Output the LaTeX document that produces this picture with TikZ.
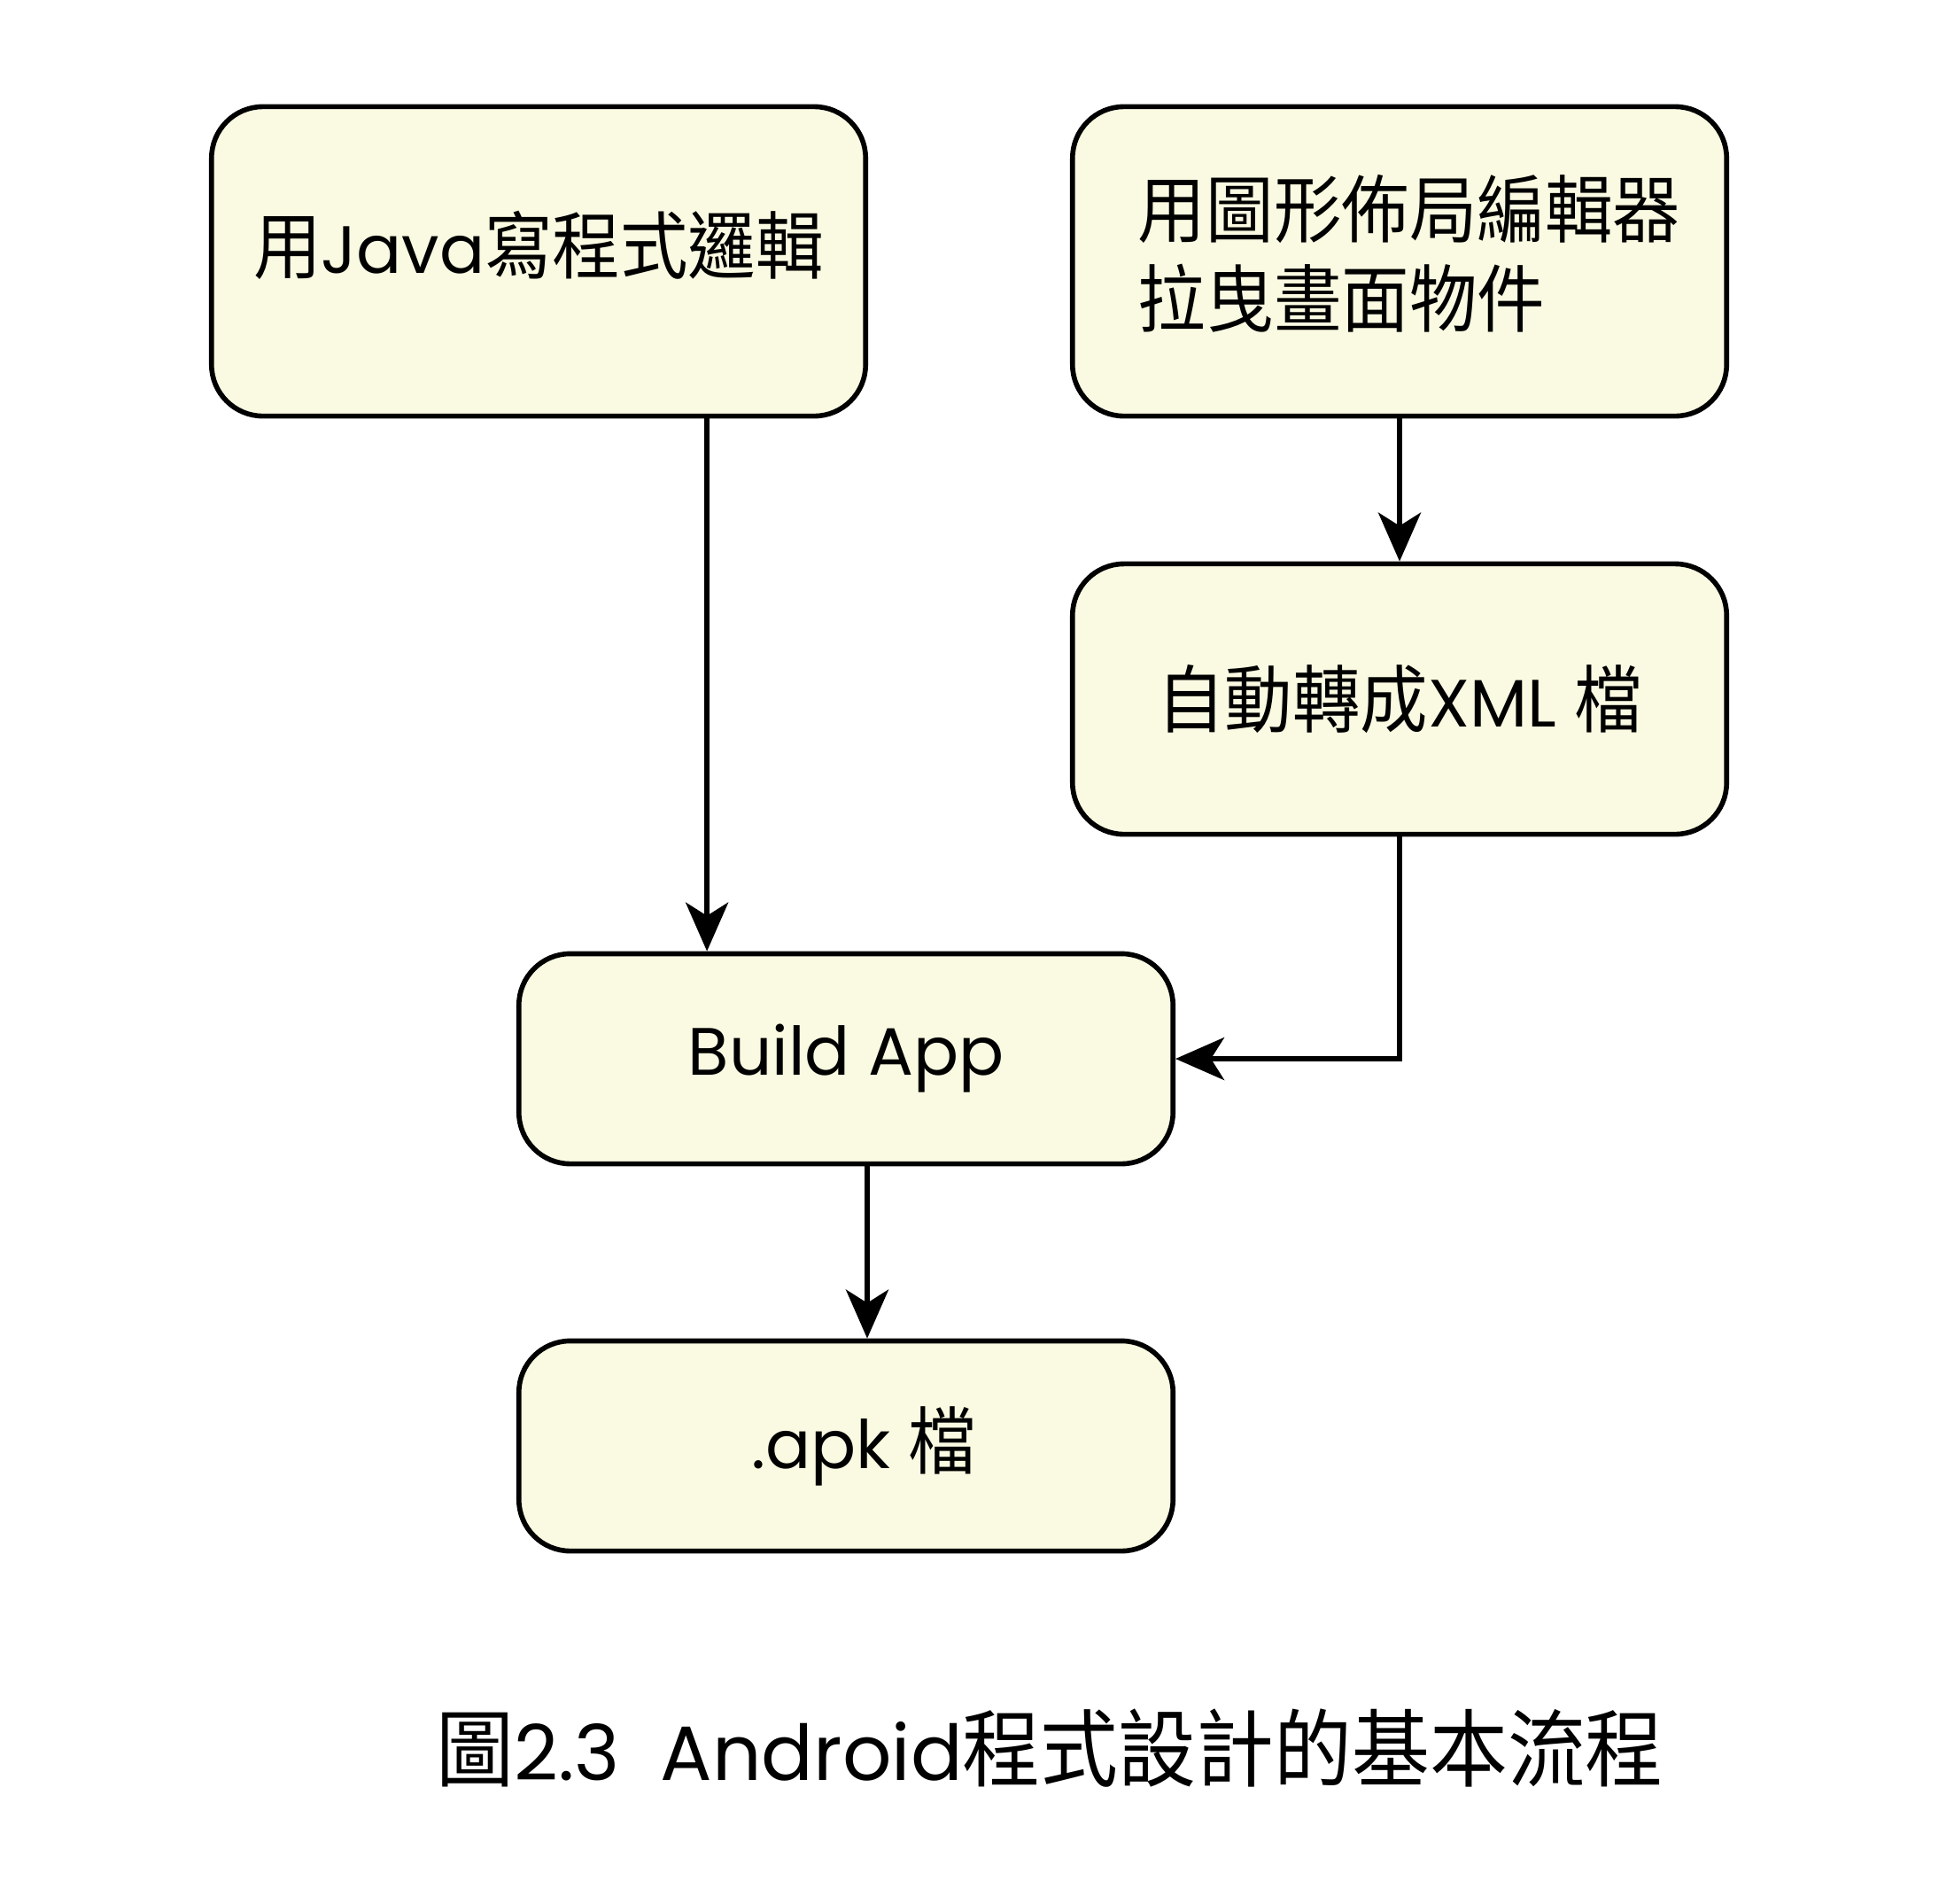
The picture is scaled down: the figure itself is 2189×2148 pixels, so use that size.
\documentclass[tikz,border=0pt]{standalone}
\usepackage{fontspec}
\setmainfont{Poppins}
\newfontfamily\cjk[Scale=1.1,FakeStretch=0.92]{Noto Sans CJK TC}
\newcommand{\zh}[1]{{\cjk #1}}
\usetikzlibrary{shapes,arrows.meta,positioning,calc}
\definecolor{boxfill}{RGB}{250,250,226}

\begin{document}
\begin{tikzpicture}[x=0.01cm, y=-0.01cm, line width=1.6pt,
  >={Stealth[length=0.55cm, width=0.48cm, inset=0.15cm]},
  box/.style={draw, rectangle, rounded corners=0.58cm, fill=boxfill, minimum width=7.38cm, align=left, font=\fontsize{21.5}{28.9}\selectfont}]
\useasboundingbox (0,0) rectangle (2189,2148);

% 方塊
\node[box, minimum height=3.49cm, text depth=0.44cm] (java) at (608,295) {\zh{用}Java\zh{寫程式邏輯}};
\node[box, minimum height=3.49cm, text depth=0.24cm] (layout) at (1580,295) {\hspace{0.22cm}\zh{用圖形佈局編輯器}\\\hspace{0.22cm}\zh{拉曳畫面物件}};
\node[box, minimum height=3.05cm] (xml) at (1580,789) {\zh{自動轉成}XML \zh{檔}};
\node[box, minimum height=2.37cm] (build) at (955,1195) {Build App};
\node[box, minimum height=2.37cm] (apk) at (955,1632) {\hspace{0.4cm}.apk \zh{檔}};

% 標題
\node[font=\fontsize{24.7}{30}\selectfont] (title) at (1185,1973) {\zh{圖}2.3\ \ Android\zh{程式設計的基本流程}};

% 連接
\coordinate (jdrop) at ([xshift=1.9cm]java.south);
\coordinate (bdrop) at ([xshift=0.24cm]build.south);
\draw[->] (jdrop) -- (jdrop |- build.north);
\draw[->] (layout.south) -- (xml);
\draw[->] (xml.south) |- (build.east);
\draw[->] (bdrop) -- (bdrop |- apk.north);
\end{tikzpicture}
\end{document}
